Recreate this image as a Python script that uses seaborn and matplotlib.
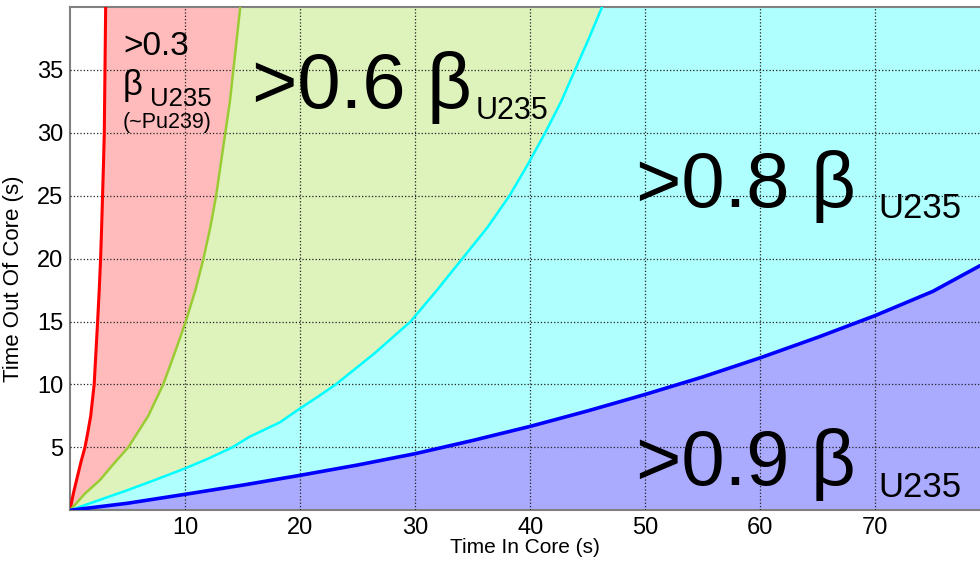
#!/usr/bin/env python
# coding: utf-8
#
import seaborn as sb
from matplotlib import pyplot as plt
import pandas as pd
import numpy as np

# curves of constant delayed neutron fraction (time in core, time out of core)
red_in = [0, 0.29, 0.64, 0.97, 1.3, 1.55, 1.8, 2.1, 2.25, 2.4, 2.54, 2.66, 2.75,
          2.83, 2.91, 2.98, 3.04, 3.1]
red_out = [0, 1.33, 2.67, 3.9, 5.0, 6.2, 7.5, 10, 12.5, 15, 17.5, 20, 22.5,
           25, 27.5, 30, 35, 40]
green_in = [0, 1.3, 2.6, 3.8, 5.06, 6.8, 8.1, 9.1, 10.06, 10.9, 11.6, 12.2, 12.7,
            13.1, 13.5, 13.9, 14.2, 14.5, 14.8]
green_out = [0, 1.33, 2.4, 3.7, 5.0, 7.5, 10, 12.5, 15, 17.5, 20, 22.5, 25,
             27.5, 30, 32.5, 35, 37.5, 40]
cyan_in = [0, 2.5, 5, 7.5, 10, 12, 14.1, 15.6, 18.26, 20, 21.5, 23.1, 26.5, 29.6,
           31.9, 34.1, 36.3, 38.2, 39.8, 41.3, 42.7, 43.9, 45.1, 46.25]
cyan_out = [0, 0.8, 1.6, 2.45, 3.33, 4.1, 5.0, 5.84, 7.0, 8.1, 9.0, 10, 12.5, 15,
            17.5, 20, 22.5, 25, 27.5, 30, 32.5, 35, 37.5, 40]
blue_in = [0, 5, 10, 15, 20, 25, 30, 35, 40, 45, 50, 55, 60, 65, 70, 75, 79.1]
blue_out = [0, 0.56, 1.27, 2.0, 2.78, 3.6, 4.5, 5.55, 6.67, 7.9, 9.21, 10.6,
            12.12, 13.75, 15.48, 17.4, 19.44]

curves = [('red', red_in, red_out, '#ff0000', '#ffbbbb', 2.2),
          ('green', green_in, green_out, '#99cc33', '#def2bc', 1.8),
          ('cyan', cyan_in, cyan_out, '#00ffff', '#b0ffff', 1.8),
          ('blue', blue_in, blue_out, '#0000ff', '#aaaaff', 2.6)]

xmax, ymax = 79.1, 40

sb.set_style('whitegrid', {'grid.color': '#222222', 'grid.linestyle': ':',
                           'axes.edgecolor': '#808080'})
plt.rcParams['font.family'] = ['Liberation Sans', 'DejaVu Sans']
plt.rcParams['text.color'] = 'black'
plt.rcParams['axes.labelcolor'] = 'black'
#
fig = plt.figure(figsize=(9.8, 5.66), dpi=100)
ax = fig.add_axes([70/980, (566-510.3)/566, 910/980, (510.3-7)/566])
#
# filled regions, each one painted over the previous
for name, xs, ys, lc, fc, lw in curves:
    if ys[-1] >= ymax:
        px = list(xs) + [xmax, xmax]
        py = list(ys) + [ymax, 0]
    else:
        px = list(xs) + [xmax]
        py = list(ys) + [0]
    ax.fill(px, py, color=fc, lw=0, zorder=1)
#
for name, xs, ys, lc, fc, lw in curves:
    df = pd.DataFrame({'t_in': xs, 't_out': ys})
    sb.lineplot(data=df, x='t_in', y='t_out', sort=False, estimator=None,
                color=lc, lw=lw, ax=ax, zorder=3)
#
ax.set_xlim(0, xmax)
ax.set_ylim(0, ymax)
ax.set_axisbelow(False)
ax.grid(True, color='#222222', linestyle=':', linewidth=0.9)
ax.set_xticks(np.arange(10, 80, 10))
ax.set_yticks(np.arange(5, 40, 5))
ax.tick_params(length=0, labelsize=17, pad=5, labelcolor='black')
ax.spines['right'].set_visible(False)
for s in ['left', 'bottom', 'top']:
    ax.spines[s].set_linewidth(1.5)
    ax.spines[s].set_color('#808080')
ax.set_xlabel('Time In Core (s)', fontsize=15, labelpad=-1)
ax.set_ylabel('Time Out Of Core (s)', fontsize=16, labelpad=4)
ax.yaxis.set_label_coords(-0.05, 0.46)
#
# region labels
kw = dict(ha='left', va='baseline', zorder=4, color='black')
ax.text(4.6, 36.2, '>0.3', fontsize=24, **kw)
ax.text(4.6, 33.0, 'β', fontsize=25, **kw)
ax.text(6.94, 32.1, 'U235', fontsize=18.5, **kw)
ax.text(4.6, 30.4, '(~Pu239)', fontsize=15.5, **kw)
ax.text(15.8, 32.0, '>0.6 β', fontsize=56, **kw)
ax.text(35.3, 31.1, 'U235', fontsize=22, **kw)
ax.text(49.2, 24.1, '>0.8 β', fontsize=56, **kw)
ax.text(70.25, 23.2, 'U235', fontsize=25, **kw)
ax.text(49.2, 2.0, '>0.9 β', fontsize=56, **kw)
ax.text(70.25, 1.06, 'U235', fontsize=25, **kw)
#
fig.savefig('out.png', dpi=100)
